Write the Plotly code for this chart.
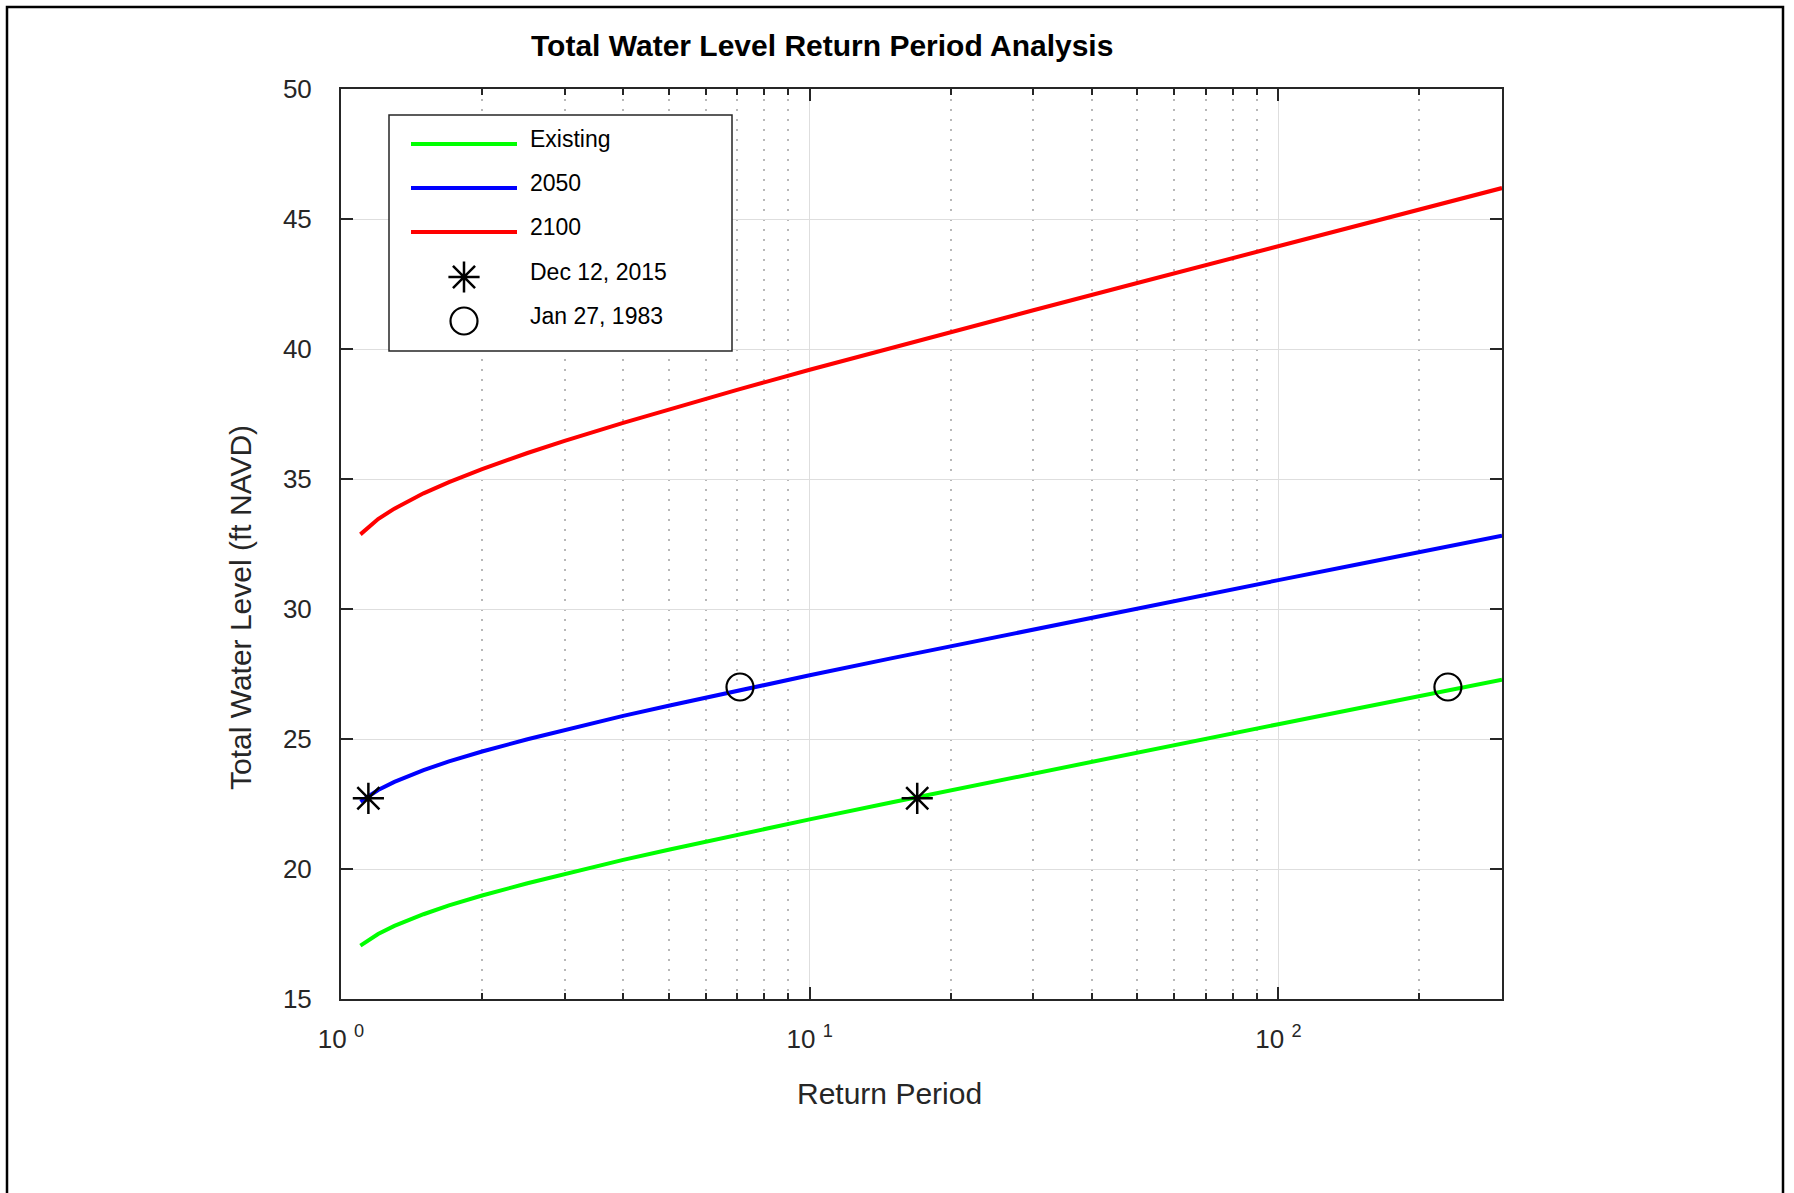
import math
import plotly.graph_objects as go

# Return periods (years) at which the three curves are tabulated
return_period = [1.1, 1.2, 1.3, 1.4, 1.5, 1.7, 2, 2.5, 3, 4, 5, 7, 10,
                 15, 20, 30, 50, 70, 100, 150, 200, 300]

# Total water level (ft NAVD) for each scenario
twl_existing = [17.05, 17.50, 17.81, 18.06, 18.26, 18.60, 18.98, 19.45, 19.81,
                20.35, 20.74, 21.32, 21.91, 22.57, 23.03, 23.67, 24.48, 25.01,
                25.57, 26.20, 26.65, 27.28]
twl_2050 = [22.59, 23.04, 23.35, 23.60, 23.80, 24.14, 24.52, 24.99, 25.35,
            25.89, 26.28, 26.86, 27.45, 28.11, 28.57, 29.21, 30.02, 30.55,
            31.11, 31.74, 32.19, 32.82]
twl_2100 = [32.87, 33.46, 33.86, 34.18, 34.45, 34.88, 35.38, 36.00, 36.47,
            37.16, 37.68, 38.43, 39.20, 40.05, 40.66, 41.49, 42.54, 43.23,
            43.96, 44.78, 45.36, 46.19]

# Observed storm events
dec2015_period = [1.144, 16.96]
dec2015_level = [22.72, 22.72]
jan1983_period = [7.1, 230]
jan1983_level = [27.0, 27.0]

series_names = ["Existing", "2050", "2100"]
series_colors = ["#00ff00", "#0000ff", "#ff0000"]
event_names = ["Dec 12, 2015", "Jan 27, 1983"]

x_range = [1, 300]
y_range = [15, 50]
x_tick_vals = [1, 10, 100]
x_tick_text = ["10 <sup>0</sup>", "10 <sup>1</sup>", "10 <sup>2</sup>"]
x_minor_vals = [2, 3, 4, 5, 6, 7, 8, 9, 20, 30, 40, 50, 60, 70, 80, 90, 200]
y_tick_vals = [15, 20, 25, 30, 35, 40, 45, 50]

FONT = "Liberation Sans, Arial, Helvetica, sans-serif"
AX = "#262626"

W, H = 1794, 1193
L, R, T, B = 341, 1502, 89, 999   # plot area in pixels
LOG0, LOG1 = math.log10(x_range[0]), math.log10(x_range[1])


def px_x(p):
    """pixel column -> paper fraction"""
    return (p - L) / (R - L)


def px_y(p):
    """pixel row -> paper fraction"""
    return (B - p) / (B - T)


def px_to_period(p):
    """pixel column -> return period on the log axis"""
    return 10 ** (LOG0 + (p - L) / (R - L) * (LOG1 - LOG0))


def px_to_level(p):
    """pixel row -> water level on the y axis"""
    return y_range[0] + (B - p) / (B - T) * (y_range[1] - y_range[0])


fig = go.Figure()

series_values = [twl_existing, twl_2050, twl_2100]
for name, vals, col in zip(series_names, series_values, series_colors):
    fig.add_trace(go.Scatter(
        x=return_period, y=vals, mode="lines", name=name,
        line=dict(color=col, width=4)))

star_marker = dict(symbol="asterisk-open", size=26, color="black",
                   line=dict(color="black", width=2.5))
ring_marker = dict(symbol="circle-open", size=27, color="black",
                   line=dict(color="black", width=2.2))

fig.add_trace(go.Scatter(x=dec2015_period, y=dec2015_level, mode="markers",
                         name=event_names[0], marker=star_marker))
fig.add_trace(go.Scatter(x=jan1983_period, y=jan1983_level, mode="markers",
                         name=event_names[1], marker=ring_marker))

# ---- legend key (box sits over the grid, under the data layer) ----
LEG_X0, LEG_X1, LEG_Y0, LEG_Y1 = 389, 732, 115, 351
ROW_Y = [144, 188, 232, 277, 321]
SAMPLE_X0, SAMPLE_X1, TEXT_X = 411, 517, 528
SAMPLE_XC = (SAMPLE_X0 + SAMPLE_X1) / 2

shapes = [
    dict(type="rect", xref="x", yref="y",
         x0=px_to_period(LEG_X0), x1=px_to_period(LEG_X1),
         y0=px_to_level(LEG_Y1), y1=px_to_level(LEG_Y0),
         layer="between", fillcolor="white",
         line=dict(color=AX, width=1.5)),
]
for i, col in enumerate(series_colors):
    shapes.append(dict(type="line", xref="x", yref="y",
                       x0=px_to_period(SAMPLE_X0), x1=px_to_period(SAMPLE_X1),
                       y0=px_to_level(ROW_Y[i]), y1=px_to_level(ROW_Y[i]),
                       layer="between", line=dict(color=col, width=4)))

for row, mk in ((3, star_marker), (4, ring_marker)):
    fig.add_trace(go.Scatter(
        x=[px_to_period(SAMPLE_XC)], y=[px_to_level(ROW_Y[row])],
        mode="markers", marker=mk, showlegend=False, hoverinfo="skip"))

annotations = []
for i, label in enumerate(series_names + event_names):
    annotations.append(dict(
        text=label, xref="paper", yref="paper",
        x=px_x(TEXT_X), y=px_y(ROW_Y[i] - 5),
        xanchor="left", yanchor="middle", showarrow=False,
        font=dict(family=FONT, size=23, color="black")))

# ---- titles ----
annotations += [
    dict(text="<b>Total Water Level Return Period Analysis</b>",
         xref="paper", yref="paper", x=px_x(822), y=px_y(46),
         xanchor="center", yanchor="middle", showarrow=False,
         font=dict(family=FONT, size=30, color="black")),
    dict(text="Return Period", xref="paper", yref="paper",
         x=px_x(889), y=px_y(1093), xanchor="center", yanchor="middle",
         showarrow=False, font=dict(family=FONT, size=30, color=AX)),
    dict(text="Total Water Level (ft NAVD)", xref="paper", yref="paper",
         x=px_x(240), y=px_y(608), xanchor="center", yanchor="middle",
         textangle=-90, showarrow=False,
         font=dict(family=FONT, size=30, color=AX)),
]

# outer figure frame
shapes.append(dict(type="rect", xref="paper", yref="paper",
                   x0=px_x(7), x1=px_x(1783), y0=px_y(1260), y1=px_y(7),
                   line=dict(color="black", width=2.5),
                   fillcolor="rgba(0,0,0,0)", layer="above"))

fig.update_layout(
    width=W, height=H, autosize=False,
    margin=dict(l=L, r=W - R, t=T, b=H - B, pad=0),
    paper_bgcolor="white", plot_bgcolor="white",
    font=dict(family=FONT, color=AX),
    showlegend=False,
    xaxis=dict(
        type="log", range=[LOG0, LOG1],
        tickmode="array", tickvals=x_tick_vals, ticktext=x_tick_text,
        ticks="inside", ticklen=12, tickwidth=1.5, tickcolor=AX,
        showline=True, linecolor=AX, linewidth=2, mirror="ticks",
        showgrid=True, gridcolor="#dedede", gridwidth=1, zeroline=False,
        tickfont=dict(family=FONT, size=26, color=AX),
        ticklabelstandoff=16,
        minor=dict(tickmode="array", tickvals=x_minor_vals, ticks="inside",
                   ticklen=6, tickwidth=1.5, tickcolor=AX, showgrid=True,
                   gridcolor="#b8b8b8", griddash="2px,8px", gridwidth=1.5),
    ),
    yaxis=dict(
        range=y_range, tickmode="array", tickvals=y_tick_vals,
        ticks="inside", ticklen=12, tickwidth=1.5, tickcolor=AX,
        showline=True, linecolor=AX, linewidth=2, mirror="ticks",
        showgrid=True, gridcolor="#dedede", gridwidth=1, zeroline=False,
        tickfont=dict(family=FONT, size=26, color=AX),
        ticklabelstandoff=22,
    ),
    annotations=annotations,
    shapes=shapes,
)

fig.write_html("out.html")
